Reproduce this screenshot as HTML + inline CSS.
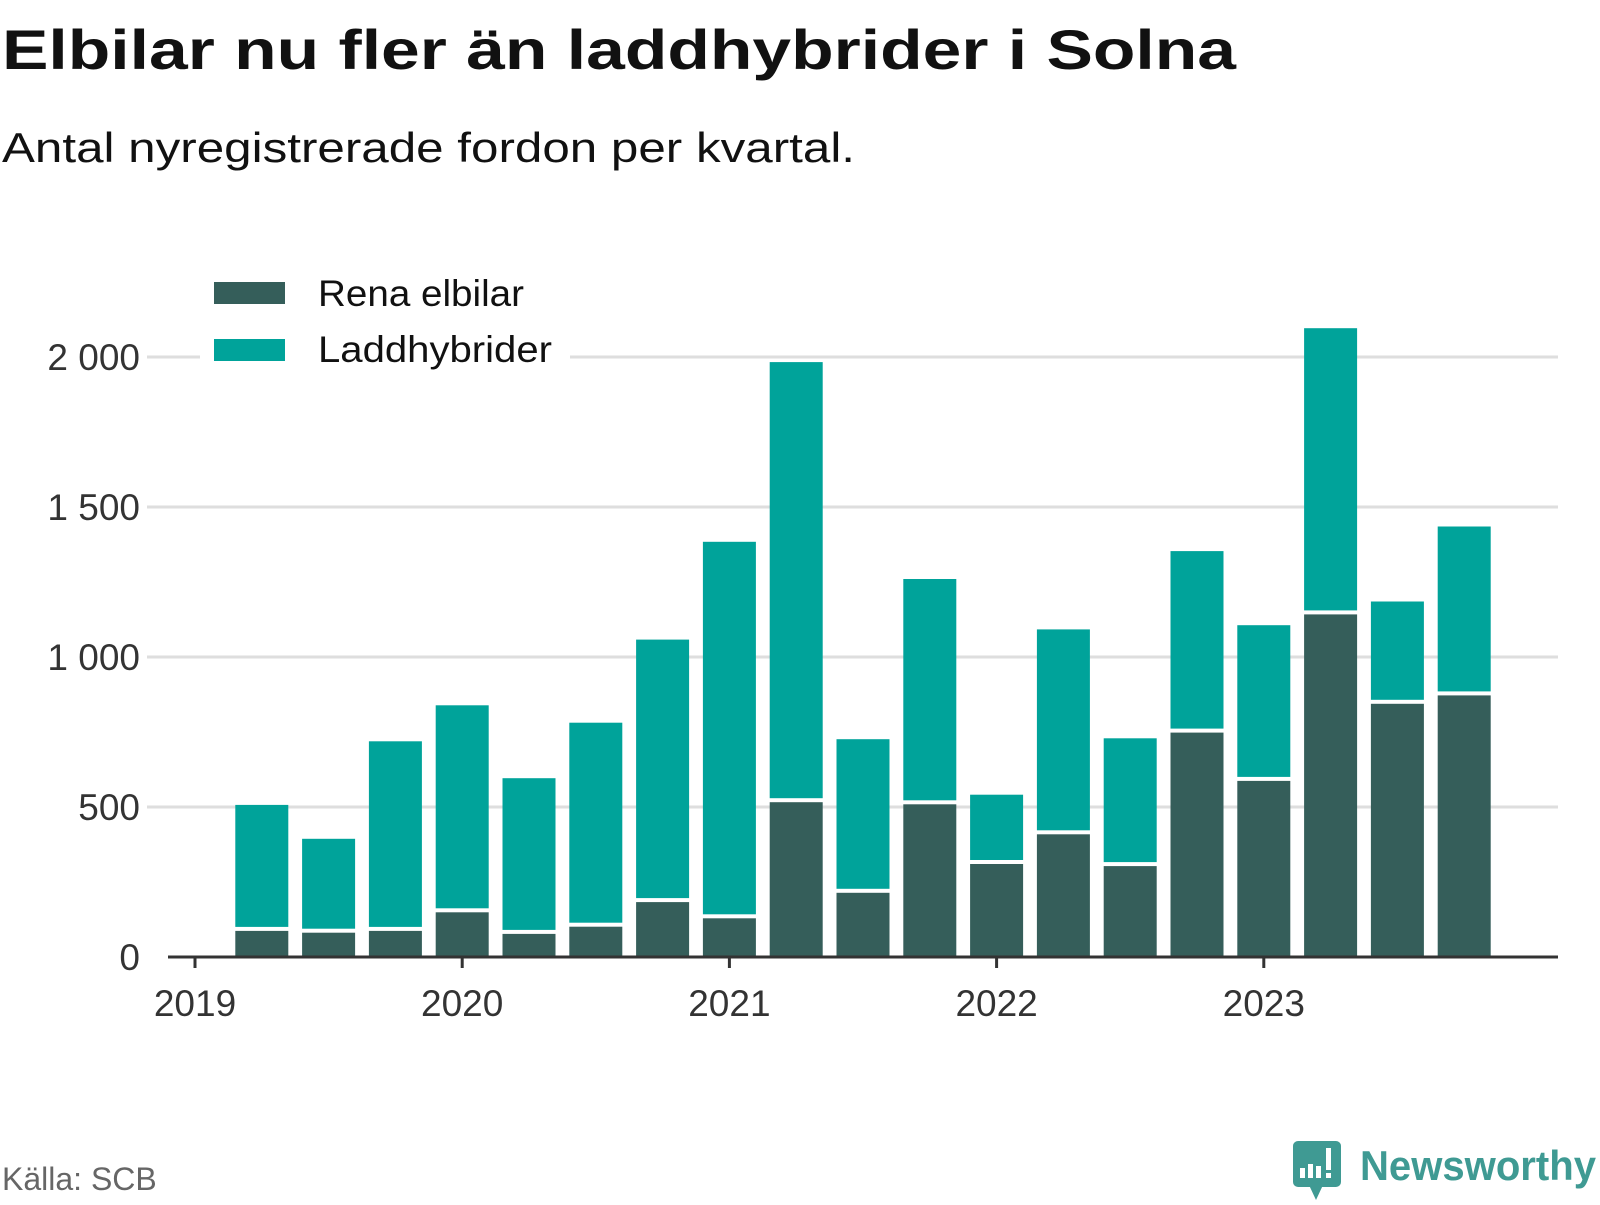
<!DOCTYPE html>
<html><head><meta charset="utf-8"><style>
body{margin:0;background:#fff;width:1600px;height:1200px;overflow:hidden;font-family:"Liberation Sans",sans-serif}
</style></head><body>
<svg width="1600" height="1200" xmlns="http://www.w3.org/2000/svg" font-family="Liberation Sans, sans-serif">
<text x="2" y="69" font-size="56" font-weight="bold" fill="#111" textLength="1234" lengthAdjust="spacingAndGlyphs">Elbilar nu fler än laddhybrider i Solna</text>
<text x="2" y="162" font-size="42" fill="#111" textLength="853" lengthAdjust="spacingAndGlyphs">Antal nyregistrerade fordon per kvartal.</text>
<g id="grid"></g>
<g id="yt"></g>
<g id="bars"></g>
<g id="xt"></g>
<g>
<rect x="200" y="272" width="370" height="100" fill="#fff"/>
<rect x="214" y="282" width="71" height="22" fill="#355e5a"/>
<text x="318" y="306" font-size="37" fill="#111" textLength="206" lengthAdjust="spacingAndGlyphs">Rena elbilar</text>
<rect x="214" y="339" width="71" height="22" fill="#00a39a"/>
<text x="318" y="362" font-size="37" fill="#111" textLength="234" lengthAdjust="spacingAndGlyphs">Laddhybrider</text>
</g>
<text x="2" y="1190" font-size="32" fill="#666">Källa: SCB</text>
<g>
<rect x="1293" y="1141" width="48" height="46" rx="5" fill="#3f9a93"/>
<polygon points="1309,1185 1323,1185 1316,1200" fill="#3f9a93"/>
<rect x="1300" y="1168" width="5" height="10" fill="#fff"/><rect x="1308" y="1164" width="5" height="14" fill="#fff"/><rect x="1316" y="1166" width="5" height="12" fill="#fff"/><rect x="1326" y="1148" width="5" height="22" fill="#fff"/><rect x="1326" y="1173" width="5" height="5" fill="#fff"/>
<text x="1360" y="1180" font-size="42" font-weight="bold" fill="#3f9a93" textLength="236" lengthAdjust="spacingAndGlyphs">Newsworthy</text>
</g>
</svg>
<script>
const quarters=["2019Q2","2019Q3","2019Q4","2020Q1","2020Q2","2020Q3","2020Q4","2021Q1","2021Q2","2021Q3","2021Q4","2022Q1","2022Q2","2022Q3","2022Q4","2023Q1","2023Q2","2023Q3","2023Q4"];
const elbilar=[92,86,92,154,82,106,188,134,521,219,514,315,414,308,753,592,1147,849,877];
const laddhybrider=[415,308,627,685,514,675,870,1250,1462,507,746,226,678,421,600,514,949,336,558];
const yTicks=[0,500,1000,1500,2000];
const yTickLabels=["0","500","1 000","1 500","2 000"];
const years=["2019","2020","2021","2022","2023"];
const NS="http://www.w3.org/2000/svg";
const base=957, k=0.3, x0=195, q=66.8, bw=53;
const y=v=>base-v*k;
const xq=i=>x0+(i+1)*q;
const xy=i=>x0+i*4*q;
function mk(t,a,p){const e=document.createElementNS(NS,t);for(const n in a)e.setAttribute(n,a[n]);p.appendChild(e);return e;}
const grid=document.getElementById('grid'),yt=document.getElementById('yt'),bars=document.getElementById('bars'),xt=document.getElementById('xt');
yTicks.forEach((v,i)=>{
  if(v>0){const l=mk('line',{x1:147,x2:1558,y1:y(v),y2:y(v),stroke:'#dedede','stroke-width':3},grid);
  
  }
  const t=mk('text',{x:140,y:y(v)+13,'font-size':37,fill:'#333','text-anchor':'end'},yt);t.textContent=yTickLabels[i];
  
  
});
quarters.forEach((qq,i)=>{
  const cx=xq(i);
  const r1=mk('rect',{x:cx-bw/2,y:y(elbilar[i])+1.5,width:bw,height:Math.max(0,elbilar[i]*k-1.5),fill:'#355e5a'},bars);
  
  
  const tot=elbilar[i]+laddhybrider[i];
  const r2=mk('rect',{x:cx-bw/2,y:y(tot),width:bw,height:Math.max(0,laddhybrider[i]*k-2.5),fill:'#00a39a'},bars);
  
  
});
const ax=mk('line',{x1:168,x2:1558,y1:base,y2:base,stroke:'#333','stroke-width':3},xt);


years.forEach((yr,i)=>{
  const x=xy(i);
  const tk=mk('line',{x1:x,x2:x,y1:base,y2:base+11,stroke:'#333','stroke-width':3},xt);
  
  
  const t=mk('text',{x:x,y:1016,'font-size':37,fill:'#333','text-anchor':'middle'},xt);t.textContent=yr;
  
  
});
</script>
</body></html>
